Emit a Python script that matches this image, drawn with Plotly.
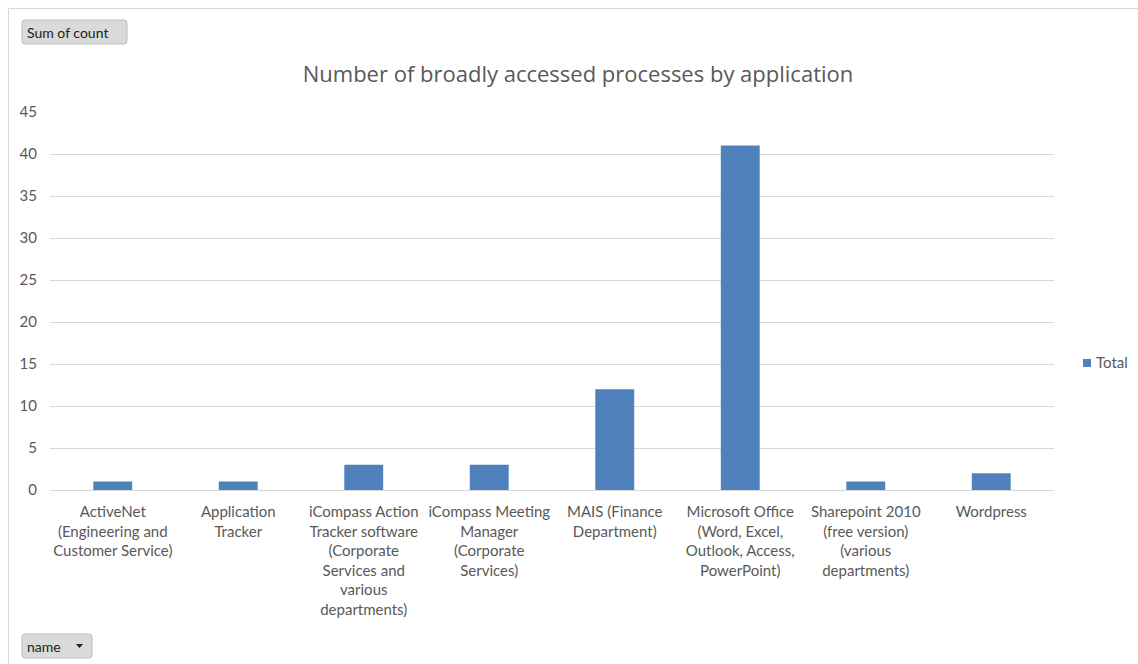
import plotly.graph_objects as go

categories = [
    "ActiveNet<br>(Engineering and<br>Customer Service)",
    "Application<br>Tracker",
    "iCompass Action<br>Tracker software<br>(Corporate<br>Services and<br>various<br>departments)",
    "iCompass Meeting<br>Manager<br>(Corporate<br>Services)",
    "MAIS (Finance<br>Department)",
    "Microsoft Office<br>(Word, Excel,<br>Outlook, Access,<br>PowerPoint)",
    "Sharepoint 2010<br>(free version)<br>(various<br>departments)",
    "Wordpress",
]
values = [1, 1, 3, 3, 12, 41, 1, 2]
y_ticks = [0, 5, 10, 15, 20, 25, 30, 35, 40, 45]
series_name = "Total"

W, H = 1138, 664
L, R, T, B = 50, 1054, 112, 490

def px(x):
    return (x - L) / (R - L)

def py(y):
    return (B - y) / (B - T)

def rounded_rect(x0, y0, x1, y1, r):
    pts = [
        ("M", x0 + r, y0), ("L", x1 - r, y0), ("Q", x1, y0, x1, y0 + r),
        ("L", x1, y1 - r), ("Q", x1, y1, x1 - r, y1), ("L", x0 + r, y1),
        ("Q", x0, y1, x0, y1 - r), ("L", x0, y0 + r), ("Q", x0, y0, x0 + r, y0),
    ]
    out = []
    for p in pts:
        if p[0] == "Q":
            out.append(f"Q {px(p[1])},{py(p[2])} {px(p[3])},{py(p[4])}")
        else:
            out.append(f"{p[0]} {px(p[1])},{py(p[2])}")
    return " ".join(out) + " Z"

FONT = "Lato, Open Sans, sans-serif"
TFONT = "Open Sans, sans-serif"
GREY = "#595959"
BLUE = "#4f81bd"

fig = go.Figure()
fig.add_trace(go.Bar(
    x=categories, y=values, name=series_name,
    marker=dict(color=BLUE, line=dict(width=0)),
    showlegend=False,
))

shapes = [
    # outer border (top and left only)
    dict(type="line", xref="paper", yref="paper",
         x0=px(8.5), x1=px(1138), y0=py(8.5), y1=py(8.5),
         line=dict(color="#d9d9d9", width=1), layer="below"),
    dict(type="line", xref="paper", yref="paper",
         x0=px(8.5), x1=px(8.5), y0=py(8.5), y1=py(664),
         line=dict(color="#d9d9d9", width=1), layer="below"),
    # Sum of count button
    dict(type="path", xref="paper", yref="paper",
         path=rounded_rect(22, 20, 127, 44, 3),
         line=dict(color="#bdbdbd", width=1), fillcolor="#dadada"),
    # name button
    dict(type="path", xref="paper", yref="paper",
         path=rounded_rect(22, 634, 92, 658, 3),
         line=dict(color="#bdbdbd", width=1), fillcolor="#dadada"),
    # dropdown arrow
    dict(type="path", xref="paper", yref="paper",
         path=f"M {px(76)},{py(644)} L {px(83)},{py(644)} L {px(79.5)},{py(648)} Z",
         line=dict(color="#202020", width=0), fillcolor="#202020"),
    # legend swatch
    dict(type="rect", xref="paper", yref="paper",
         x0=px(1083), x1=px(1091), y0=py(367), y1=py(359),
         line=dict(width=0), fillcolor=BLUE),
]

annotations = [
    dict(text="Sum of count", xref="paper", yref="paper",
         x=px(25), y=py(32), xanchor="left", yanchor="middle", showarrow=False,
         font=dict(family=FONT, size=14, color="#202020")),
    dict(text="name", xref="paper", yref="paper",
         x=px(25), y=py(646), xanchor="left", yanchor="middle", showarrow=False,
         font=dict(family=FONT, size=14, color="#202020")),
    dict(text=series_name, xref="paper", yref="paper",
         x=px(1094), y=py(362), xanchor="left", yanchor="middle", showarrow=False,
         font=dict(family=FONT, size=15, color=GREY)),
]

fig.update_layout(
    width=W, height=H,
    margin=dict(l=L, r=W - R, t=T, b=H - B, pad=0, autoexpand=False),
    paper_bgcolor="white", plot_bgcolor="white",
    showlegend=False,
    title=dict(text="Number of broadly accessed processes by application",
               x=578 / W, xref="container", xanchor="center",
               y=1 - 74 / H, yref="container", yanchor="middle",
               font=dict(family=TFONT, size=22, color=GREY)),
    bargap=0.69,
    font=dict(family=FONT, color=GREY),
    xaxis=dict(showgrid=False, showline=False, ticks="", tickangle=0,
               tickfont=dict(family=FONT, size=15, color=GREY),
               ticklabelstandoff=11, fixedrange=True),
    yaxis=dict(range=[0, 45], tickvals=y_ticks, showgrid=True,
               gridcolor="#d9d9d9", gridwidth=1, zeroline=True,
               zerolinecolor="#d9d9d9", zerolinewidth=1, showline=False,
               tickfont=dict(family=FONT, size=15, color=GREY),
               ticklabelstandoff=12, fixedrange=True),
    shapes=shapes,
    annotations=annotations,
)

fig.write_html("out.html")
